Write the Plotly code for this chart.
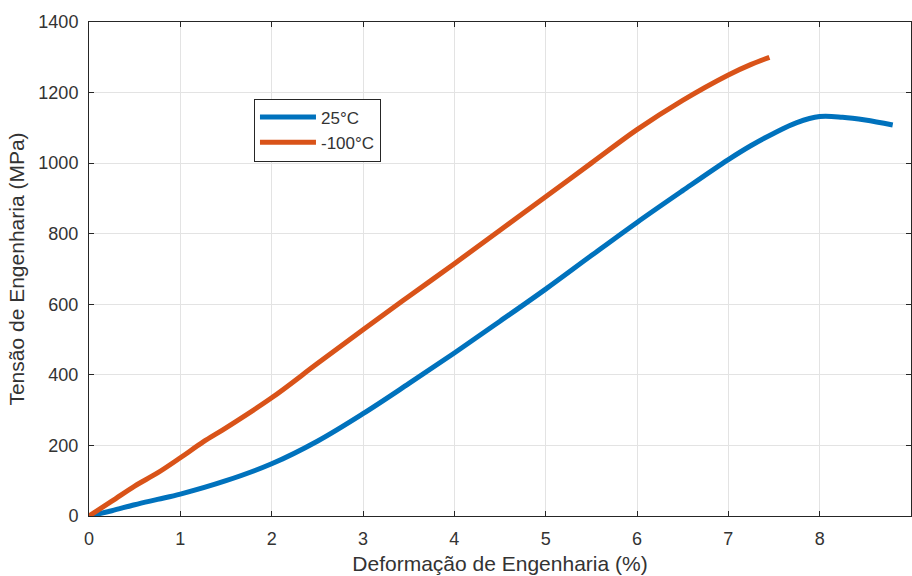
import plotly.graph_objects as go

strain_25 = [0, 0.25, 0.5, 0.75, 1, 1.5, 2, 2.5, 3, 3.5, 4, 4.5, 5, 5.5, 6, 6.5, 7, 7.25, 7.5, 7.75, 8, 8.25, 8.5, 8.8]
stress_25 = [0, 15, 32, 47, 62, 100, 148, 212, 290, 375, 462, 552, 643, 738, 832, 922, 1010, 1050, 1085, 1115, 1132, 1130, 1122, 1108]

strain_m100 = [0, 0.25, 0.5, 0.75, 1, 1.25, 1.5, 2, 2.5, 3, 3.5, 4, 4.5, 5, 5.5, 6, 6.5, 7, 7.25, 7.45]
stress_m100 = [0, 42, 85, 122, 165, 210, 250, 335, 432, 528, 622, 715, 810, 905, 1000, 1095, 1178, 1250, 1280, 1300]

x_ticks = [0, 1, 2, 3, 4, 5, 6, 7, 8, 9]
y_ticks = [0, 200, 400, 600, 800, 1000, 1200, 1400]

fig = go.Figure()
fig.add_trace(go.Scatter(x=strain_25, y=stress_25, mode="lines", name="25°C",
                         line=dict(color="#0072BD", width=5, shape="spline")))
fig.add_trace(go.Scatter(x=strain_m100, y=stress_m100, mode="lines", name="-100°C",
                         line=dict(color="#D95319", width=5, shape="spline")))

axis_common = dict(showgrid=True, gridcolor="#e3e3e3", gridwidth=1,
                   showline=True, linecolor="#262626", linewidth=1, mirror="ticks",
                   ticks="inside", ticklen=5, tickcolor="#262626", zeroline=False,
                   tickfont=dict(family="Liberation Sans, Arial", size=18, color="#333333"))

fig.update_layout(
    width=912, height=576,
    margin=dict(l=89, r=1, t=22, b=60),
    paper_bgcolor="white", plot_bgcolor="white",
    font=dict(family="Liberation Sans, Arial", size=16, color="#333333"),
    xaxis=dict(range=[0, 9], tickvals=x_ticks, ticktext=[str(v) for v in x_ticks],
               ticklabelstandoff=6,
               title=dict(text="Deformação de Engenharia (%)", font=dict(size=21), standoff=8),
               **axis_common),
    yaxis=dict(range=[0, 1400], tickvals=y_ticks, ticktext=[str(v) for v in y_ticks],
               ticklabelstandoff=6,
               title=dict(text="Tensão de Engenharia (MPa)", font=dict(size=21), standoff=8),
               **axis_common),
    legend=dict(x=0.2007, y=0.845, xanchor="left", yanchor="top",
                bgcolor="white", bordercolor="#262626", borderwidth=1,
                font=dict(size=17), tracegroupgap=0, itemwidth=56),
    showlegend=True,
)

fig.write_html("out.html")
